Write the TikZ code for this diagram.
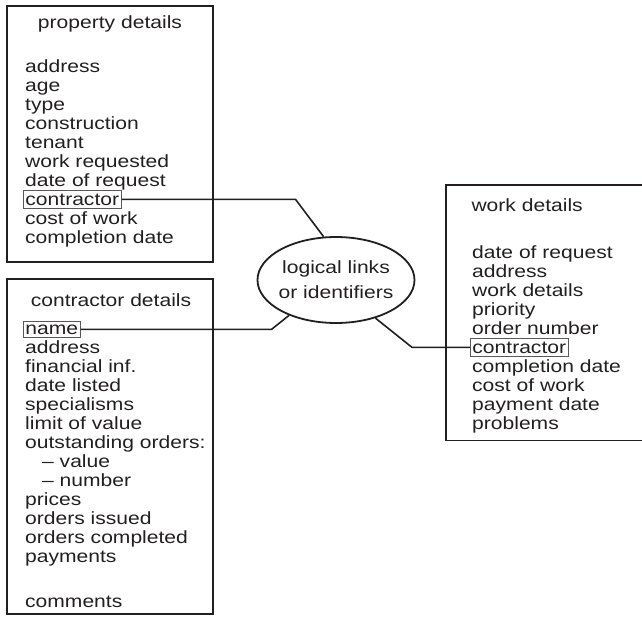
\documentclass[tikz,border=0pt]{standalone}
\usepackage{fontspec}
\setmainfont{Liberation Sans}[FakeStretch=1.19]
\usepackage{xcolor}
\usetikzlibrary{shapes.geometric, positioning}
\definecolor{ink}{HTML}{231F20}

\begin{document}
\begin{tikzpicture}[
  x=1pt, y=-1pt,
  every node/.style={text=ink},
  detailbox/.style={draw=ink, line width=1.8pt, minimum width=206pt},
  head/.style={font=\fontsize{17.7}{19}\selectfont, anchor=base},
  entry/.style={font=\fontsize{17.7}{19}\selectfont, anchor=base west,
                inner xsep=2pt, inner ysep=0pt},
  keyentry/.style={entry, draw=ink!75, line width=0.9pt, inner ysep=3pt},
  link/.style={draw=ink, line width=1.6pt},
  idents/.style={ellipse, draw=ink, line width=1.8pt,
                 minimum width=157pt, minimum height=86pt, inner sep=-3pt,
                 align=center, font=\fontsize{17.7}{25}\selectfont}
]
\useasboundingbox (0,0) rectangle (642,616);
\clip (0,0) rectangle (642,616);

% property details
\node[detailbox, minimum height=256pt] (propbox) at (110,134) {};
\node[head] (prophead) at (110,28) {property details};
\node[entry]    (p1)   at (23,72)                    {address};
\node[entry]    (p2)   at ([yshift=-19pt]p1.base west) {age};
\node[entry]    (p3)   at ([yshift=-19pt]p2.base west) {type};
\node[entry]    (p4)   at ([yshift=-19pt]p3.base west) {construction};
\node[entry]    (p5)   at ([yshift=-19pt]p4.base west) {tenant};
\node[entry]    (p6)   at ([yshift=-19pt]p5.base west) {work requested};
\node[entry]    (p7)   at ([yshift=-19pt]p6.base west) {date of request};
\node[keyentry] (pkey) at ([yshift=-19pt]p7.base west) {contractor};
\node[entry]    (p9)   at ([yshift=-19pt]pkey.base west) {cost of work};
\node[entry]    (p10)  at ([yshift=-19pt]p9.base west) {completion date};

% contractor details
\node[detailbox, minimum height=335pt] (contbox) at (110,446.5) {};
\node[head] (conthead) at (111,306) {contractor details};
\node[keyentry] (ckey) at (23,334)                      {name\ };
\node[entry]    (c2)   at ([yshift=-19pt]ckey.base west) {address};
\node[entry]    (c3)   at ([yshift=-19pt]c2.base west)  {financial inf.};
\node[entry]    (c4)   at ([yshift=-19pt]c3.base west)  {date listed};
\node[entry]    (c5)   at ([yshift=-19pt]c4.base west)  {specialisms};
\node[entry]    (c6)   at ([yshift=-19pt]c5.base west)  {limit of value};
\node[entry]    (c7)   at ([yshift=-19pt]c6.base west)  {outstanding orders:};
\node[entry]    (c8)   at ([yshift=-19pt]c7.base west)  {\hspace{17pt}-- value};
\node[entry]    (c9)   at ([yshift=-19pt]c8.base west)  {\hspace{17pt}-- number};
\node[entry]    (c10)  at ([yshift=-19pt]c9.base west)  {prices};
\node[entry]    (c11)  at ([yshift=-19pt]c10.base west) {orders issued};
\node[entry]    (c12)  at ([yshift=-19pt]c11.base west) {orders completed};
\node[entry]    (c13)  at ([yshift=-19pt]c12.base west) {payments};
\node[entry]    (c14)  at ([yshift=-45pt]c13.base west) {comments};

% work details
\node[detailbox, minimum width=214pt, minimum height=255.5pt] (workbox) at (553,312.75) {};
\node[head, anchor=base west] (workhead) at (468,211) {work details};
\node[entry]    (w1)   at (470,258)                    {date of request};
\node[entry]    (w2)   at ([yshift=-19pt]w1.base west) {address};
\node[entry]    (w3)   at ([yshift=-19pt]w2.base west) {work details};
\node[entry]    (w4)   at ([yshift=-19pt]w3.base west) {priority};
\node[entry]    (w5)   at ([yshift=-19pt]w4.base west) {order number};
\node[keyentry] (wkey) at ([yshift=-19pt]w5.base west) {contractor};
\node[entry]    (w7)   at ([yshift=-19pt]wkey.base west) {completion date};
\node[entry]    (w8)   at ([yshift=-19pt]w7.base west) {cost of work};
\node[entry]    (w9)   at ([yshift=-19pt]w8.base west) {payment date};
\node[entry]    (w10)  at ([yshift=-19pt]w9.base west) {problems};

% links
\node[idents] (ident) at (336,280) {logical links\\or identifiers};

\draw[link] (pkey.east) -- ([xshift=174pt]pkey.east) -- (ident.106);
\draw[link] (ckey.east) -- ([xshift=191pt]ckey.east) -- (ident.217);
\draw[link] (ident.316) -- ([xshift=-58pt]wkey.west) -- (wkey.west);
\end{tikzpicture}
\end{document}
